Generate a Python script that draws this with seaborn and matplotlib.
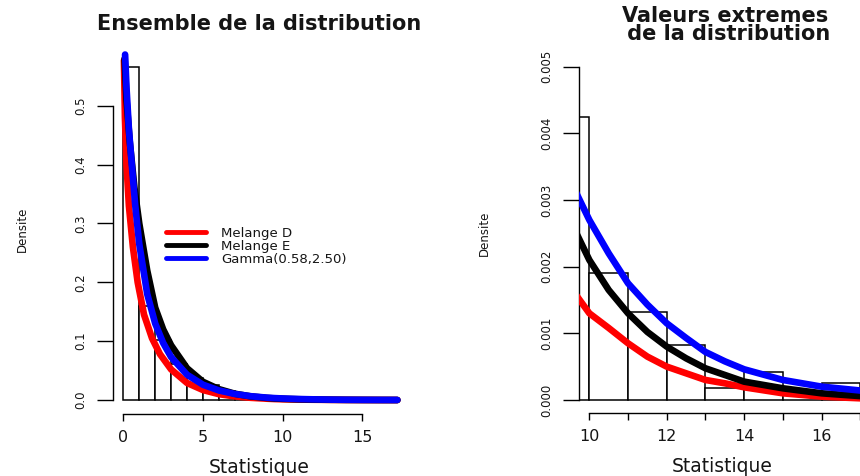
import numpy as np
import pandas as pd
import matplotlib
matplotlib.use("Agg")
import matplotlib.pyplot as plt
from matplotlib.lines import Line2D
import seaborn as sns

# ---------------- data ----------------
bin_edges = list(range(0, 18))
bin_density = [0.566, 0.160, 0.102, 0.062, 0.037, 0.0255, 0.016, 0.010, 0.0065,
               0.00424, 0.00191, 0.001325, 0.00082, 0.000175, 0.000415, 0.0001, 0.00025]

series_labels = ["Melange D", "Melange E", "Gamma(0.58,2.50)"]
series_colors = ["#ff0000", "#000000", "#0000ff"]

red_x = [0.04, 0.1, 0.2, 0.35, 0.6, 0.9, 1.3, 1.8, 2.3, 3, 4, 5, 6, 7, 8, 9, 9.5, 10,
         10.5, 11, 11.5, 12, 12.5, 13, 13.5, 14, 15, 16, 17.2]
red_y = [0.577, 0.48, 0.40, 0.33, 0.26, 0.20, 0.145, 0.105, 0.078, 0.052, 0.029, 0.017,
         0.010, 0.0062, 0.0038, 0.0023, 0.0017, 0.0013, 0.00108, 0.00085, 0.00065,
         0.0005, 0.0004, 0.0003, 0.00025, 0.00019, 0.0001, 0.00005, 0.00002]

black_x = [0.08, 0.2, 0.4, 0.7, 1, 1.5, 2, 2.5, 3, 4, 5, 6, 7, 8, 9, 9.5, 10, 10.5, 11,
           11.5, 12, 12.5, 13, 13.5, 14, 15, 16, 17.2]
black_y = [0.58, 0.51, 0.44, 0.36, 0.30, 0.22, 0.157, 0.12, 0.093, 0.054, 0.031,
           0.0185, 0.0107, 0.0062, 0.0036, 0.0027, 0.0021, 0.00165, 0.0013, 0.00102,
           0.0008, 0.000625, 0.000475, 0.000375, 0.000275, 0.000175, 0.0001, 0.00005]

blue_x = [0.11, 0.2, 0.35, 0.5, 0.75, 1, 1.5, 2, 2.5, 3, 4, 5, 6, 7, 8, 9, 9.5, 10,
          10.5, 11, 11.5, 12, 12.5, 13, 13.5, 14, 15, 16, 17.2]
blue_y = [0.587, 0.53, 0.46, 0.41, 0.33, 0.265, 0.18, 0.13, 0.097, 0.073, 0.043, 0.026,
          0.0163, 0.0103, 0.0065, 0.0041, 0.0033, 0.0027, 0.0022, 0.00175, 0.00143,
          0.00115, 0.00093, 0.00072, 0.00058, 0.00046, 0.0003, 0.0002, 0.00013]

left_yticks = [0.0, 0.1, 0.2, 0.3, 0.4, 0.5]
left_yticklabels = ["0.0", "0.1", "0.2", "0.3", "0.4", "0.5"]
left_xticks = [0, 5, 10, 15]
right_yticks = [0.0, 0.001, 0.002, 0.003, 0.004, 0.005]
right_yticklabels = ["0.000", "0.001", "0.002", "0.003", "0.004", "0.005"]
right_xticks = [10, 11, 12, 13, 14, 15, 16, 17]
right_xticklabels = ["10", "", "12", "", "14", "", "16", ""]

title_left = "Ensemble de la distribution"
title_right = "Valeurs extremes\n de la distribution"
xlabel = "Statistique"
ylabel = "Densite"

# ---------------- styling ----------------
sns.set_theme(style="white")
plt.rcParams["font.family"] = ["DejaVu Sans"]
TXT = "#151515"

W, H = 860, 476
fig = plt.figure(figsize=(W / 100, H / 100), dpi=100)
fig.patch.set_facecolor("white")

def frac_box(x0, x1, ytop, ybot):
    return [x0 / W, 1 - ybot / H, (x1 - x0) / W, (ybot - ytop) / H]

ax1 = fig.add_axes(frac_box(112.5, 405.0, 45.0, 413.7))
ax2 = fig.add_axes(frac_box(578.5, 871.1, 53.3, 413.3))

centers = [(a + b) / 2 for a, b in zip(bin_edges[:-1], bin_edges[1:])]
hist_df = pd.DataFrame({"x": centers, "w": bin_density})
curves = [(red_x, red_y), (black_x, black_y), (blue_x, blue_y)]

for ax in (ax1, ax2):
    sns.histplot(data=hist_df, x="x", weights="w", bins=bin_edges, stat="count",
                 color="white", edgecolor="black", linewidth=1.1, alpha=1.0,
                 ax=ax, zorder=1)
    for (xs, ys), col, lab in zip(curves, series_colors, series_labels):
        sns.lineplot(x=xs, y=ys, color=col, linewidth=4.8, sort=False,
                     estimator=None, ax=ax, legend=False, zorder=3,
                     solid_capstyle="round", solid_joinstyle="round")
    ax.set_facecolor("white")
    for s in ("top", "right"):
        ax.spines[s].set_visible(False)
    for s in ("left", "bottom"):
        ax.spines[s].set_color("black")
        ax.spines[s].set_linewidth(1.0)
    ax.tick_params(axis="x", direction="out", length=5, width=1.0, color="black",
                   labelsize=11.5, labelcolor=TXT, pad=6.5, bottom=True)
    ax.tick_params(axis="y", direction="out", length=11.5, width=1.0, color="black",
                   labelsize=8.5, labelcolor=TXT, pad=7, left=True)
    ax.set_xlabel(xlabel, fontsize=13.5, color=TXT)
    ax.set_ylabel(ylabel, fontsize=8.5, color=TXT)
    ax.grid(False)

# left panel
ax1.set_xlim(-0.68, 17.68)
ax1.set_ylim(-0.0232, 0.6032)
ax1.set_xticks(left_xticks)
ax1.set_xticklabels([str(t) for t in left_xticks])
ax1.set_yticks(left_yticks)
ax1.set_yticklabels(left_yticklabels, rotation=90, va="center")
ax1.spines["left"].set_bounds(0, 0.5)
ax1.spines["bottom"].set_bounds(0, 15)
ax1.xaxis.set_label_coords(0.5, -0.145)
ax1.xaxis.label.set_va("center")
ax1.yaxis.set_label_coords(-0.309, 0.5)
ax1.yaxis.label.set_va("center")
ax1.set_title(title_left, fontsize=15, fontweight="bold", color=TXT,
              y=1.057, va="center", pad=0)

# right panel
ax2.set_xlim(9.72, 17.28)
ax2.set_ylim(-0.0002, 0.0052)
ax2.set_xticks(right_xticks)
ax2.set_xticklabels(right_xticklabels)
ax2.set_yticks(right_yticks)
ax2.set_yticklabels(right_yticklabels, rotation=90, va="center")
ax2.spines["left"].set_bounds(0, 0.005)
ax2.spines["bottom"].set_bounds(10, 17)
ax2.xaxis.set_label_coords((722 - 578.5) / 292.6, -0.149)
ax2.xaxis.label.set_va("center")
ax2.yaxis.set_label_coords(-0.32, 0.5)
ax2.yaxis.label.set_va("center")
ax2.set_title(title_right, fontsize=15, fontweight="bold", color=TXT,
              y=1.079, va="center", pad=0, linespacing=0.92)

# legend in left panel
handles = [Line2D([0], [0], color=c, lw=3.5, solid_capstyle="round")
           for c in series_colors]
leg = ax1.legend(handles, series_labels, loc="upper left",
                 bbox_to_anchor=(166 / W, 1 - 227 / H), bbox_transform=fig.transFigure,
                 frameon=False, fontsize=9.5, handlelength=3.0, handletextpad=1.2,
                 labelspacing=0.0, borderpad=0, borderaxespad=0)
for t in leg.get_texts():
    t.set_color(TXT)

fig.savefig("out.png", dpi=100, facecolor="white")
